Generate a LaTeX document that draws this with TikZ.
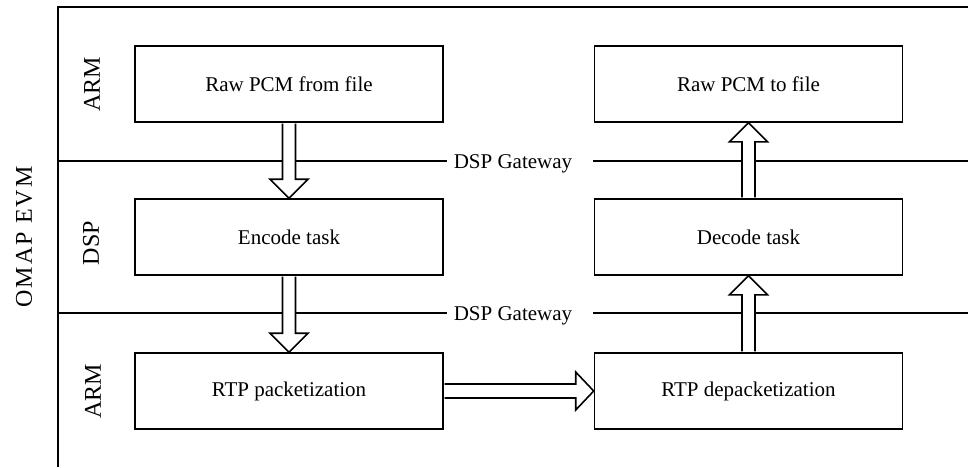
\documentclass[tikz,border=0pt]{standalone}
\usepackage{fontspec}
\setmainfont{Liberation Serif}
\usetikzlibrary{calc}

\tikzset{
  box/.style={draw, line width=1.6pt, minimum width=308pt, minimum height=76pt,
    inner sep=0pt, font=\fontsize{21}{25}\selectfont},
  frameline/.style={line width=1.6pt},
  fatline/.style={draw, fill=white, line width=1.6pt, line join=miter},
  gate/.style={font=\fontsize{21}{25}\selectfont, inner sep=0pt, anchor=base},
  side/.style={rotate=90, font=\fontsize{24}{28}\selectfont, inner sep=0pt},
}

% hollow block arrows between boxes
\newcommand{\fatdown}[2]{%
  \draw[fatline] ($(#1)+(-6.5,0.8)$) -- ($(#2)+(-6.5,-19)$) -- ($(#2)+(-19,-19)$)
    -- (#2) -- ($(#2)+(19,-19)$) -- ($(#2)+(6.5,-19)$) -- ($(#1)+(6.5,0.8)$);}
\newcommand{\fatup}[2]{%
  \draw[fatline] ($(#1)+(-6.5,-0.8)$) -- ($(#2)+(-6.5,19)$) -- ($(#2)+(-19,19)$)
    -- (#2) -- ($(#2)+(19,19)$) -- ($(#2)+(6.5,19)$) -- ($(#1)+(6.5,-0.8)$);}
\newcommand{\fatright}[2]{%
  \draw[fatline] ($(#1)+(0.8,-7)$) -- ($(#2)+(-18,-7)$) -- ($(#2)+(-18,-19)$)
    -- (#2) -- ($(#2)+(-18,19)$) -- ($(#2)+(-18,7)$) -- ($(#1)+(0.8,7)$);}

\begin{document}
\begin{tikzpicture}[x=1pt, y=-1pt]
\useasboundingbox (0,0) rectangle (968,467);

% board frame
\draw[frameline] (58,467) -- (58,7) -- (968,7);

% gateway dividers
\node[gate] (gw1) at (513,168) {DSP Gateway};
\node[gate] (gw2) at (513,320) {DSP Gateway};
\draw[frameline] (58,161) -- (447,161);
\draw[frameline] (593,161) -- (968,161);
\draw[frameline] (58,313) -- (447,313);
\draw[frameline] (593,313) -- (968,313);

% side labels
\node[side] (omap) at (24,237) {\addfontfeatures{LetterSpace=9}OMAP EVM};
\node[side] (arm1) at (92,84) {ARM};
\node[side] (dsp) at (91,243) {DSP};
\node[side] (arm2) at (93,391) {ARM};

% processing blocks
\node[box] (pcmin) at (289,84) {Raw PCM from file};
\node[box] (pcmout) at (748.5,84) {Raw PCM to file};
\node[box] (enc) at (289,237) {Encode task};
\node[box] (dec) at (748.5,237) {Decode task};
\node[box] (pack) at (289,391) {RTP packetization};
\node[box] (depack) at (748.5,391) {RTP depacketization};

% data flow
\fatdown{pcmin.south}{enc.north}
\fatdown{enc.south}{pack.north}
\fatright{pack.east}{depack.west}
\fatup{depack.north}{dec.south}
\fatup{dec.north}{pcmout.south}
\end{tikzpicture}
\end{document}
